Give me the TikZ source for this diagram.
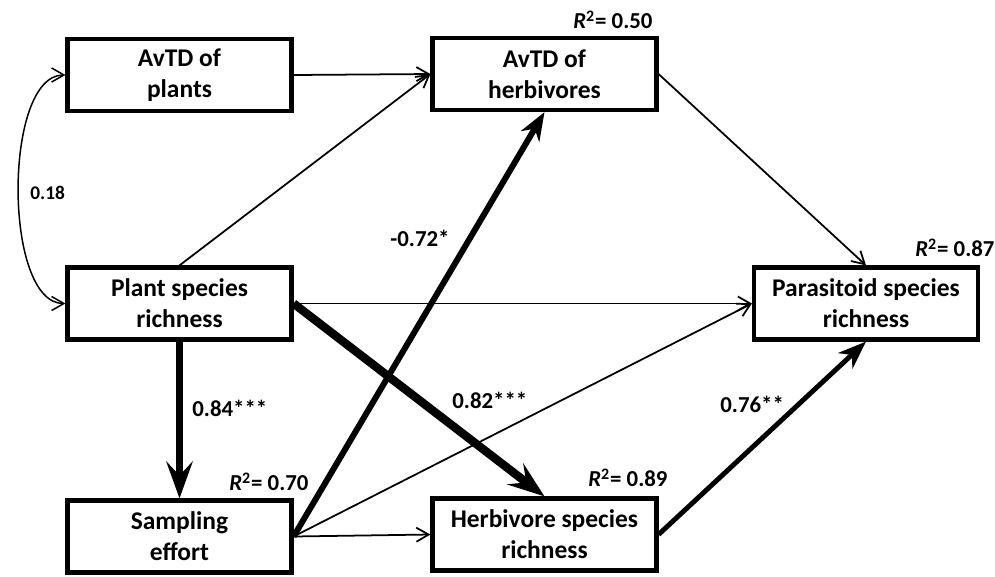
\documentclass[tikz,border=0pt]{standalone}
\usepackage{fontspec}
\setmainfont{Carlito}
\usetikzlibrary{arrows.meta, positioning}

\begin{document}
\begin{tikzpicture}[x=0.02cm, y=-0.02cm,
  every node/.style={font=\bfseries},
  var/.style={draw, fill=white, line width=2.4pt, minimum width=4.48cm, minimum height=1.44cm,
    inner sep=0pt, align=center, font=\fontsize{14.5}{17.5}\selectfont\bfseries},
  coef/.style={anchor=west, inner sep=0pt, font=\fontsize{13}{15}\selectfont\bfseries},
  weakpath/.style={line width=1pt, -{Straight Barb[length=7pt,width=8pt]}},
  strongpath/.style={line width=#1, -{Stealth[length=21pt,width=15pt,inset=8pt]}},
  midpath/.style={line width=#1, -{Stealth[length=16pt,width=12pt,inset=5pt]}}]
  \useasboundingbox (0,0) rectangle (995,576);

  % Variables
  \node[var] (plants)   at (179.5,75)  {AvTD of\\plants};
  \node[var] (herbtd)   at (544.5,74)  {AvTD of\\herbivores};
  \node[var] (plantsr)  at (179.5,303.5) {Plant species\\richness};
  \node[var] (parasr)   at (866,303.5) {Parasitoid species\\richness};
  \node[var] (effort)   at (179.5,536.5) {Sampling\\effort};
  \node[var] (herbsr)   at (544.5,534.5) {Herbivore species\\richness};

  % Paths
  \draw[weakpath] (plants.east) -- (herbtd.west);
  \draw[weakpath] (plantsr.north) -- (herbtd.west);
  \draw[line width=0.85pt, {Straight Barb[length=7pt,width=8pt]}-{Straight Barb[length=7pt,width=8pt]}]
    (plants.west) to[out=180, in=180, looseness=0.7] (plantsr.west);
  \draw[weakpath] (herbtd.east) -- (parasr.north);
  \draw[weakpath] (plantsr.east) -- (parasr.west);
  \draw[weakpath] (effort.east) -- (parasr.west);
  \draw[weakpath] (effort.east) -- (herbsr.west);
  \draw[strongpath=4.8pt] (plantsr.east) -- (herbsr.north);
  \draw[strongpath=4pt] (plantsr.south) -- (effort.north);
  \draw[midpath=3.4pt] (effort.east) -- (herbtd.south);
  \draw[midpath=2.8pt] (herbsr.east) -- (parasr.south);

  % Coefficients
  \node[coef, font=\fontsize{11}{13}\selectfont\bfseries] (c18) at (30,193) {0.18};
  \node[coef] (c84) at (192,408) {0.84***};
  \node[coef] (c82) at (452,400) {0.82***};
  \node[coef] (c76) at (720,404) {0.76**};
  \node[coef] (c72) at (390,238) {-0.72*};

  % Explained variance
  \node[coef] (r50) at (573,20)  {{\itshape R}\textsuperscript{2}= 0.50};
  \node[coef] (r87) at (915,248) {{\itshape R}\textsuperscript{2}= 0.87};
  \node[coef] (r70) at (229,482) {{\itshape R}\textsuperscript{2}= 0.70};
  \node[coef] (r89) at (588,478) {{\itshape R}\textsuperscript{2}= 0.89};
\end{tikzpicture}
\end{document}
